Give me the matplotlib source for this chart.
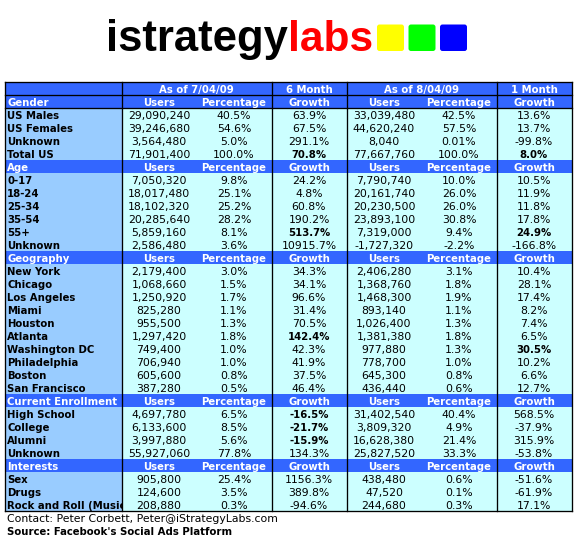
import matplotlib
matplotlib.use("Agg")
import matplotlib.pyplot as plt
from matplotlib.patches import Rectangle, FancyBboxPatch

W, H = 578, 541
FONT = "DejaVu Sans"
FS = 7.3
FS_REG = 7.85

sections = ["Gender", "Age", "Geography", "Current Enrollment", "Interests"]
labels = [
    ["US Males", "US Females", "Unknown", "Total US"],
    ["0-17", "18-24", "25-34", "35-54", "55+", "Unknown"],
    ["New York", "Chicago", "Los Angeles", "Miami", "Houston", "Atlanta", "Washington DC", "Philadelphia", "Boston", "San Francisco"],
    ["High School", "College", "Alumni", "Unknown"],
    ["Sex", "Drugs", "Rock and Roll (Music)"],
]
users_jul = [
    ["29,090,240", "39,246,680", "3,564,480", "71,901,400"],
    ["7,050,320", "18,017,480", "18,102,320", "20,285,640", "5,859,160", "2,586,480"],
    ["2,179,400", "1,068,660", "1,250,920", "825,280", "955,500", "1,297,420", "749,400", "706,940", "605,600", "387,280"],
    ["4,697,780", "6,133,600", "3,997,880", "55,927,060"],
    ["905,800", "124,600", "208,880"],
]
pct_jul = [
    ["40.5%", "54.6%", "5.0%", "100.0%"],
    ["9.8%", "25.1%", "25.2%", "28.2%", "8.1%", "3.6%"],
    ["3.0%", "1.5%", "1.7%", "1.1%", "1.3%", "1.8%", "1.0%", "1.0%", "0.8%", "0.5%"],
    ["6.5%", "8.5%", "5.6%", "77.8%"],
    ["25.4%", "3.5%", "0.3%"],
]
growth_6m = [
    ["63.9%", "67.5%", "291.1%", "70.8%"],
    ["24.2%", "4.8%", "60.8%", "190.2%", "513.7%", "10915.7%"],
    ["34.3%", "34.1%", "96.6%", "31.4%", "70.5%", "142.4%", "42.3%", "41.9%", "37.5%", "46.4%"],
    ["-16.5%", "-21.7%", "-15.9%", "134.3%"],
    ["1156.3%", "389.8%", "-94.6%"],
]
users_aug = [
    ["33,039,480", "44,620,240", "8,040", "77,667,760"],
    ["7,790,740", "20,161,740", "20,230,500", "23,893,100", "7,319,000", "-1,727,320"],
    ["2,406,280", "1,368,760", "1,468,300", "893,140", "1,026,400", "1,381,380", "977,880", "778,700", "645,300", "436,440"],
    ["31,402,540", "3,809,320", "16,628,380", "25,827,520"],
    ["438,480", "47,520", "244,680"],
]
pct_aug = [
    ["42.5%", "57.5%", "0.01%", "100.0%"],
    ["10.0%", "26.0%", "26.0%", "30.8%", "9.4%", "-2.2%"],
    ["3.1%", "1.8%", "1.9%", "1.1%", "1.3%", "1.8%", "1.3%", "1.0%", "0.8%", "0.6%"],
    ["40.4%", "4.9%", "21.4%", "33.3%"],
    ["0.6%", "0.1%", "0.3%"],
]
growth_1m = [
    ["13.6%", "13.7%", "-99.8%", "8.0%"],
    ["10.5%", "11.9%", "11.8%", "17.8%", "24.9%", "-166.8%"],
    ["10.4%", "28.1%", "17.4%", "8.2%", "7.4%", "6.5%", "30.5%", "10.2%", "6.6%", "12.7%"],
    ["568.5%", "-37.9%", "315.9%", "-53.8%"],
    ["-51.6%", "-61.9%", "17.1%"],
]
bold_6m = {"70.8%", "513.7%", "142.4%", "-16.5%", "-21.7%", "-15.9%"}
bold_1m = {"8.0%", "24.9%", "30.5%"}
top_headers = ["As of 7/04/09", "6 Month", "As of 8/04/09", "1 Month"]
col_headers = ["Users", "Percentage", "Growth", "Users", "Percentage", "Growth"]
footer_contact = "Contact: Peter Corbett, Peter@iStrategyLabs.com"
footer_source = "Source: Facebook's Social Ads Platform"

BLUE = "#3366ff"
LIGHT = "#99ccff"
CYAN = "#ccffff"

L, R, T, RH = 4.5, 572, 82, 13
X1, X2, X3, X4 = 121.5, 271.5, 346.5, 496.5
CX = [159, 234, 309, 384, 459, 534]

fig = plt.figure(figsize=(W / 100, H / 100), dpi=100)
ax = fig.add_axes([0, 0, 1, 1])
ax.set_xlim(0, W)
ax.set_ylim(H, 0)
ax.axis("off")

def txt(x, y, s, color="black", weight="normal", ha="center", clip=None):
    size = FS if weight == "bold" else FS_REG
    t = ax.text(x, y, s, color=color, fontweight=weight, ha=ha, va="center_baseline",
                fontsize=size, family=FONT)
    if clip is not None:
        t.set_clip_path(clip)
        t.set_clip_on(True)
    return t

def band(y, h, color, x0=L, x1=R):
    ax.add_patch(Rectangle((x0, y), x1 - x0, h, fc=color, ec="none"))

n_rows = 2 + sum(1 + len(s) for s in labels) - 1
B = T + n_rows * RH

band(T, n_rows * RH, CYAN)
band(T, n_rows * RH, LIGHT, L, X1)
band(T, 2 * RH, BLUE)

txt((X1 + X2) / 2, T + RH / 2 + .3, top_headers[0], "white", "bold")
txt(CX[2], T + RH / 2 + .3, top_headers[1], "white", "bold")
txt((X3 + X4) / 2, T + RH / 2 + .3, top_headers[2], "white", "bold")
txt(CX[5], T + RH / 2 + .3, top_headers[3], "white", "bold")

y = T + RH
clip_rect = Rectangle((L, T), X1 - L, n_rows * RH, transform=ax.transData)
for i, sec in enumerate(sections):
    band(y, RH, BLUE)
    txt(L + 2.5, y + RH / 2 + .3, sec, "white", "bold", ha="left")
    for cx, h in zip(CX, col_headers):
        txt(cx, y + RH / 2 + .3, h, "white", "bold")
    y += RH
    for j, lab in enumerate(labels[i]):
        cy = y + RH / 2 + .3
        txt(L + 2.5, cy, lab, weight="bold", ha="left", clip=clip_rect)
        txt(CX[0], cy, users_jul[i][j])
        txt(CX[1], cy, pct_jul[i][j])
        v = growth_6m[i][j]
        txt(CX[2], cy, v, weight="bold" if v in bold_6m else "normal")
        txt(CX[3], cy, users_aug[i][j])
        txt(CX[4], cy, pct_aug[i][j])
        v = growth_1m[i][j]
        txt(CX[5], cy, v, weight="bold" if v in bold_1m else "normal")
        y += RH

LW = 0.95
for ly in (T, T + RH, T + 2 * RH, B):
    ax.plot([L, R], [ly, ly], color="black", lw=LW, solid_capstyle="projecting")
for lx in (L, X1, X2, X3, X4, R):
    ax.plot([lx, lx], [T, B], color="black", lw=LW, solid_capstyle="projecting")

txt(7, 518, footer_contact, ha="left")
txt(7, 531, footer_source, weight="bold", ha="left")

# logo
LOGO_FONT = "Liberation Sans"
ax.text(106, 51, "istrategy", color="black", fontweight="bold", family=LOGO_FONT,
        fontsize=31.4, ha="left", va="baseline")
ax.text(288, 51, "labs", color="#ff0000", fontweight="bold", family=LOGO_FONT,
        fontsize=30.5, ha="left", va="baseline")
for x0, c in zip((377, 408.5, 440), ("#ffff00", "#00ff00", "#0000ff")):
    ax.add_patch(FancyBboxPatch((x0, 24.5), 27, 26.5, boxstyle="round,pad=0,rounding_size=2.5",
                                fc=c, ec="none"))

fig.savefig("out.png", dpi=100)
